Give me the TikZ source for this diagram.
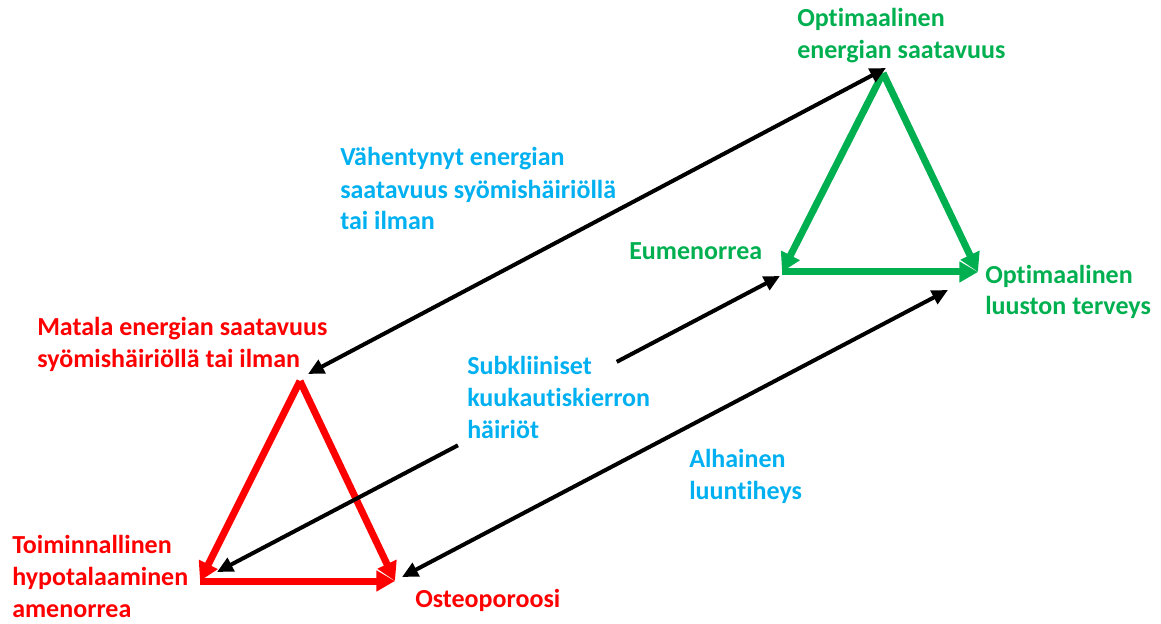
\documentclass[tikz,border=0pt]{standalone}
\usepackage{fontspec}
\setmainfont[Ligatures=NoCommon]{Carlito}
\usetikzlibrary{arrows.meta, calc}

\definecolor{punainen}{RGB}{255,0,0}
\definecolor{vihrea}{RGB}{0,176,80}
\definecolor{sininen}{RGB}{0,176,240}

\begin{document}
\begin{tikzpicture}[x=0.75pt, y=-0.75pt,
    % styles
    txt/.style={font=\bfseries\fontsize{19.5}{24}\selectfont, align=left, anchor=base west, inner sep=0pt},
    redtxt/.style={txt, text=punainen},
    greentxt/.style={txt, text=vihrea},
    bluetxt/.style={txt, text=sininen},
    side/.style={line width=5.25pt, -{Triangle[length=14pt, width=15pt]}},
    link/.style={line width=3pt, {Triangle[length=12pt, width=11pt]}-{Triangle[length=12pt, width=11pt]}},
    linkstart/.style={line width=3pt, {Triangle[length=12pt, width=11pt]}-},
    linkend/.style={line width=3pt, -{Triangle[length=12pt, width=11pt]}}
]
    \useasboundingbox (0,0) rectangle (1161,624);

    % --- triangle corners (red = low, green = optimal) ---
    \coordinate (matala) at (300,381);
    \coordinate (toim)   at (200,581);
    \coordinate (osteo)  at (395,581);

    \coordinate (optE)   at (883,73);
    \coordinate (eume)   at (782,272);
    \coordinate (optL)   at (978,272);

    % --- ends of the black double arrows ---
    \coordinate (a1s) at (308,374);
    \coordinate (a1e) at (886,68);
    \coordinate (a2s) at (217,572);
    \coordinate (a2e) at (780,276);
    \coordinate (a3s) at (402,577);
    \coordinate (a3e) at (948,290);
    % gap for the middle text
    \coordinate (gapA) at ($(a2s)!0.428!(a2e)$);
    \coordinate (gapB) at ($(a2s)!0.710!(a2e)$);

    % --- red triangle ---
    \draw[side, punainen] (matala) -- (toim);
    \draw[side, punainen] (matala) -- (osteo);
    \draw[side, punainen] (toim) -- (osteo);

    % --- green triangle ---
    \draw[side, vihrea] (optE) -- (eume);
    \draw[side, vihrea] (optE) -- (optL);
    \draw[side, vihrea] (eume) -- (optL);

    % --- black arrows ---
    \draw[link] (a1s) -- (a1e);
    \draw[linkstart] (a2s) -- (gapA);
    \draw[linkend] (gapB) -- (a2e);
    \draw[link] (a3s) -- (a3e);

    % --- labels (base = last line) ---
    \node[greentxt] (optEtxt) at (797,59) {Optimaalinen\\energian saatavuus};
    \node[greentxt] (eumetxt) at (629,260) {Eumenorrea};
    \node[greentxt] (optLtxt) at (985,315) {Optimaalinen\\luuston terveys};

    \node[redtxt] (matalatxt) at (37,367) {Matala energian saatavuus\\syömishäiriöllä tai ilman};
    \node[redtxt] (toimtxt) at (12,617) {Toiminnallinen\\hypotalaaminen\\amenorrea};
    \node[redtxt] (osteotxt) at (415,607) {Osteoporoosi};

    \node[bluetxt] (vahtxt) at (340,230) {Vähentynyt energian\\saatavuus syömishäiriöllä\\tai ilman};
    \node[bluetxt] (subtxt) at (467,438) {Subkliiniset\\kuukautiskierron\\häiriöt};
    \node[bluetxt] (alhtxt) at (689,499) {Alhainen\\luuntiheys};
\end{tikzpicture}
\end{document}
